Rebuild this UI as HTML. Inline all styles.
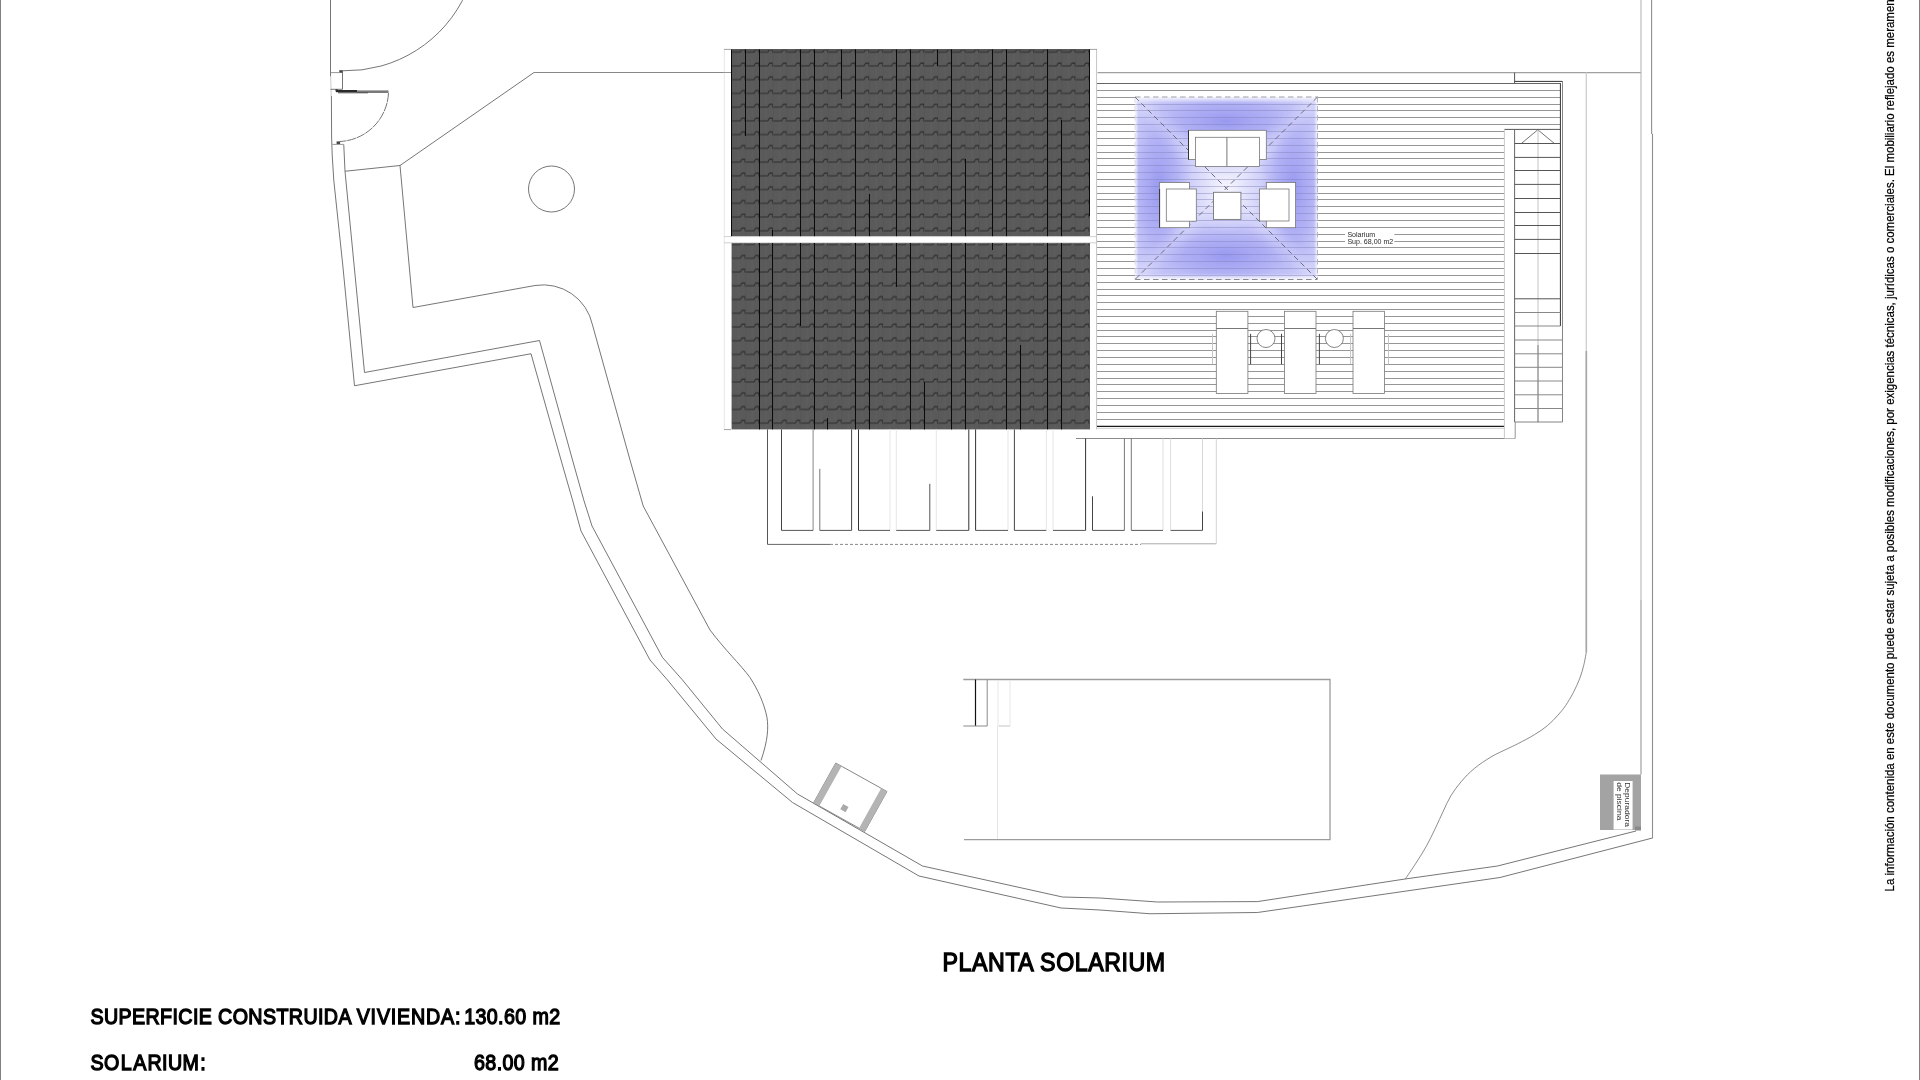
<!DOCTYPE html>
<html lang="es">
<head>
<meta charset="utf-8">
<title>Planta Solarium</title>
<style>
html,body{margin:0;padding:0;background:#fff;}
body{width:1920px;height:1080px;overflow:hidden;position:relative;font-family:"Liberation Sans",sans-serif;}
svg{position:absolute;left:0;top:0;display:block;will-change:transform;}
text{font-family:"Liberation Sans",sans-serif;}
</style>
</head>
<body>
<svg width="1920" height="1080" viewBox="0 0 1920 1080" role="img" aria-label="Planta Solarium">
<defs>
<pattern id="tiles" x="731.6" y="52.2" width="13.75" height="13.74" patternUnits="userSpaceOnUse">
<rect x="0" y="0" width="13.75" height="13.75" fill="#5a5a5a"/>
<path d="M0.2,0 H8.4 C9.4,0 9.6,-2.8 10.7,-2.8 H13.5 M13.6,-3.2 V0.4" fill="none" stroke="#2b2b2b" stroke-width="1.1"/>
<path d="M0.2,13.74 H8.4 C9.4,13.74 9.6,10.94 10.7,10.94 H13.5 M13.6,10.54 V14.14" fill="none" stroke="#2b2b2b" stroke-width="1.1"/>
<line x1="0" y1="0" x2="0" y2="13.75" stroke="#4f4f4f" stroke-width="0.7"/>
<line x1="6.9" y1="1" x2="6.9" y2="10.75" stroke="#5e5e5e" stroke-width="1.2"/>
</pattern>
<radialGradient id="bh" cx="0.5" cy="0.5" r="0.5">
<stop offset="0" stop-color="#9696f0" stop-opacity="0.95"/>
<stop offset="0.55" stop-color="#a8a8f4" stop-opacity="0.7"/>
<stop offset="1" stop-color="#b8b8f6" stop-opacity="0"/>
</radialGradient>
<radialGradient id="bc" cx="0.5" cy="0.5" r="0.5">
<stop offset="0" stop-color="#ffffff" stop-opacity="0.75"/>
<stop offset="1" stop-color="#ffffff" stop-opacity="0"/>
</radialGradient>
<linearGradient id="fadeL" x1="0" x2="1" y1="0" y2="0"><stop offset="0" stop-color="#fff" stop-opacity="0.85"/><stop offset="1" stop-color="#fff" stop-opacity="0"/></linearGradient>
<linearGradient id="fadeR" x1="1" x2="0" y1="0" y2="0"><stop offset="0" stop-color="#fff" stop-opacity="0.85"/><stop offset="1" stop-color="#fff" stop-opacity="0"/></linearGradient>
<linearGradient id="fadeT" x1="0" x2="0" y1="0" y2="1"><stop offset="0" stop-color="#fff" stop-opacity="0.85"/><stop offset="1" stop-color="#fff" stop-opacity="0"/></linearGradient>
<linearGradient id="fadeB" x1="0" x2="0" y1="1" y2="0"><stop offset="0" stop-color="#fff" stop-opacity="0.85"/><stop offset="1" stop-color="#fff" stop-opacity="0"/></linearGradient>
<filter id="blur5" x="-20%" y="-20%" width="140%" height="140%"><feGaussianBlur stdDeviation="5"/></filter>
<clipPath id="clipBlue"><rect x="1135" y="97" width="182.5" height="182.5"/></clipPath>
</defs>
<g id="site-boundary">
<rect x="0" y="0" width="1" height="1080" fill="#808080" stroke="none" stroke-width="1" />
<rect x="1919" y="0" width="1" height="1080" fill="#808080" stroke="none" stroke-width="1" />
<polyline points="331.6,137 332.2,155 333.75,180 342.75,265 354.5,385.75 531,353.75 561,460 572.5,500 581,531 650,660 667.5,680 716,739 792.5,802.5 919,876 1061,908 1100,910 1150,913.75 1257.5,912.5 1500,877.5 1652.5,838" fill="none" stroke="#666" stroke-width="0.9" />
<line x1="1652.5" y1="838.3" x2="1652.5" y2="133.75" stroke="#8e8e8e" stroke-width="1.1" />
<line x1="1651.6" y1="0" x2="1651.6" y2="134" stroke="#8e8e8e" stroke-width="1.1" />
<polyline points="343.75,144.4 345,171.25 364.5,372.5 539.5,340.5 572.5,460 583.75,500 592,526 662.5,657.5 682.5,680 722.5,729 797.5,794 922.5,866 1062.5,897 1100,898 1157.5,902 1257.5,901.6 1405,879 1497.5,866 1636,831" fill="none" stroke="#666" stroke-width="0.9" />
<path d="M345,171.25 L400,165.5 L413,307.5 L535,285.5 A50.5 50.5 0 0 1 592.5,325 L630,460 L643.2,506 L710,630 C725,650 740,664 750,677.5 C758,690 764,703 767,717.5 C768.5,728 768,740 761,760.5" fill="none" stroke="#666" stroke-width="0.9" />
<polyline points="400,165.5 534,72.5" fill="none" stroke="#666" stroke-width="0.9" />
<line x1="534" y1="72.5" x2="731" y2="72.5" stroke="#7a7a7a" stroke-width="0.9" />
<circle cx="551.5" cy="189" r="23" fill="none" stroke="#666" stroke-width="0.9"/>
<line x1="330.5" y1="0" x2="330.5" y2="76.5" stroke="#666" stroke-width="0.9" />
<line x1="330.7" y1="76.5" x2="331.2" y2="96" stroke="#c4c4c4" stroke-width="0.9" />
<polyline points="331.4,96 331.6,137" fill="none" stroke="#666" stroke-width="0.9" />
<path d="M342.5,70.8 A131.8 131.8 0 0 0 466.5,-8" fill="none" stroke="#666" stroke-width="0.9" />
<rect x="339.3" y="70.2" width="3.5" height="2.6" fill="#444" stroke="none" stroke-width="1" />
<line x1="330.5" y1="72.6" x2="339.5" y2="72.6" stroke="#8a8a8a" stroke-width="0.9" />
<polyline points="342.5,72 342.5,89.3 330.5,89.3" fill="none" stroke="#666" stroke-width="0.9" />
<rect x="335.5" y="89.3" width="2.2" height="2.2" fill="#333" stroke="none" stroke-width="1" />
<rect x="336" y="90" width="21" height="2.2" fill="#2a2a2a" stroke="none" stroke-width="1" />
<rect x="357" y="90.4" width="31.5" height="2.6" fill="#7a7a7a" stroke="none" stroke-width="1" />
<rect x="338" y="92.2" width="30" height="1.1" fill="#555" stroke="none" stroke-width="1" />
<path d="M388.5,93 A51 51 0 0 1 340,141.5" fill="none" stroke="#666" stroke-width="0.9" stroke-dasharray="9 0.8"/>
<rect x="336.6" y="141.4" width="3.5" height="2.6" fill="#444" stroke="none" stroke-width="1" />
<line x1="332.4" y1="144.4" x2="343.6" y2="144.4" stroke="#8a8a8a" stroke-width="0.9" />
<line x1="1641" y1="0" x2="1641" y2="600" stroke="#d0d0d0" stroke-width="1.7" />
<line x1="1641" y1="600" x2="1641" y2="774.5" stroke="#bcbcbc" stroke-width="1.7" />
<line x1="1096" y1="72.6" x2="1640.8" y2="72.6" stroke="#a0a0a0" stroke-width="1.2" />
<line x1="1586.3" y1="72.6" x2="1586.3" y2="351" stroke="#cfcfcf" stroke-width="1.3" />
<line x1="1586.3" y1="351" x2="1586.3" y2="652.4" stroke="#a6a6a6" stroke-width="1.7" />
<path d="M1586.30,652.40 C1585.87,654.57 1584.78,661.08 1583.70,665.40 C1582.62,669.72 1581.53,673.77 1579.80,678.30 C1578.07,682.83 1575.67,688.05 1573.30,692.60 C1570.93,697.15 1568.18,701.82 1565.60,705.60 C1563.02,709.38 1560.83,711.95 1557.80,715.30 C1554.77,718.65 1551.30,722.47 1547.40,725.70 C1543.50,728.93 1539.15,731.78 1534.40,734.70 C1529.65,737.62 1523.52,740.80 1518.90,743.20 C1514.28,745.60 1511.33,746.82 1506.70,749.10 C1502.07,751.38 1496.50,753.67 1491.10,756.90 C1485.70,760.13 1479.27,764.40 1474.30,768.50 C1469.33,772.60 1465.20,776.97 1461.30,781.50 C1457.40,786.03 1453.92,790.73 1450.90,795.70 C1447.88,800.67 1445.78,805.88 1443.20,811.30 C1440.62,816.72 1438.22,822.37 1435.40,828.20 C1432.58,834.03 1429.55,840.47 1426.30,846.30 C1423.05,852.13 1419.40,857.75 1415.90,863.20 C1412.40,868.65 1407.07,876.37 1405.30,879.00" fill="none" stroke="#777" stroke-width="0.85" />
<rect x="1600" y="774.5" width="41" height="55.5" fill="#a3a3a3" stroke="none" stroke-width="1" />
<rect x="1613.6" y="781" width="19" height="48.5" fill="#ffffff" stroke="none" stroke-width="1" />
<rect x="1635" y="826.5" width="6" height="4" fill="#8a8a8a" stroke="none" stroke-width="1" />
<polyline points="963.3,679.5 1330,679.5 1330,839.6 964,839.6" fill="none" stroke="#9c9c9c" stroke-width="1.3" />
<line x1="975.5" y1="679.5" x2="975.5" y2="726" stroke="#111" stroke-width="1.2" />
<line x1="987.2" y1="679.5" x2="987.2" y2="726" stroke="#8a8a8a" stroke-width="1" />
<line x1="963.3" y1="726" x2="987.2" y2="726" stroke="#8a8a8a" stroke-width="1" />
<line x1="998.5" y1="726" x2="1010" y2="726" stroke="#c4c4c4" stroke-width="1" />
<line x1="998" y1="680" x2="998" y2="726" stroke="#e6e6e6" stroke-width="1" />
<line x1="1010" y1="680" x2="1010" y2="726" stroke="#e6e6e6" stroke-width="1" />
<line x1="997.5" y1="726" x2="997.5" y2="839" stroke="#e6e6e6" stroke-width="1" />
<g transform="translate(835.75,763) rotate(29.1)">
<rect x="0" y="0" width="58.6" height="45.6" fill="#fff" stroke="#777" stroke-width="0.8" />
<rect x="0" y="0" width="6.6" height="45.6" fill="#b4b4b4" stroke="none" stroke-width="1" />
<rect x="52" y="0" width="6.6" height="45.6" fill="#b4b4b4" stroke="none" stroke-width="1" />
<rect x="26.5" y="32.2" width="6" height="6" fill="#aaa" stroke="none" stroke-width="1" />
</g>
</g>
<g id="house-roof">
<rect x="724" y="49.4" width="373.5" height="380" fill="#fff" stroke="none" stroke-width="1" />
<line x1="724.3" y1="49.4" x2="724.3" y2="429.4" stroke="#e6e6e6" stroke-width="1" />
<line x1="723.5" y1="72.5" x2="731.6" y2="72.5" stroke="#8a8a8a" stroke-width="0.9" />
<line x1="1096.6" y1="49.4" x2="1096.6" y2="429.4" stroke="#c4c4c4" stroke-width="1" />
<rect x="731.6" y="49.4" width="358.4" height="186.79999999999998" fill="url(#tiles)" stroke="none" stroke-width="1" />
<rect x="731.6" y="243.0" width="358.4" height="186.39999999999998" fill="url(#tiles)" stroke="none" stroke-width="1" />
<line x1="731.6" y1="49.8" x2="1090.0" y2="49.8" stroke="#3c3c3c" stroke-width="1" />
<line x1="724" y1="49.4" x2="731.6" y2="49.4" stroke="#8a8a8a" stroke-width="0.8" />
<line x1="1090" y1="49.4" x2="1097" y2="49.4" stroke="#8a8a8a" stroke-width="0.8" />
<line x1="724" y1="236.6" x2="1097" y2="236.6" stroke="#c4c4c4" stroke-width="0.8" />
<line x1="724" y1="242.8" x2="1097" y2="242.8" stroke="#c4c4c4" stroke-width="0.8" />
<line x1="724" y1="429.6" x2="731" y2="429.6" stroke="#8a8a8a" stroke-width="0.8" />
<line x1="731.5" y1="49.4" x2="731.5" y2="236.2" stroke="#0a0a0a" stroke-width="1" />
<line x1="745.5" y1="49.4" x2="745.5" y2="136" stroke="#0a0a0a" stroke-width="1" />
<line x1="759.5" y1="49.4" x2="759.5" y2="236.2" stroke="#0a0a0a" stroke-width="1" />
<line x1="772.5" y1="230" x2="772.5" y2="236.2" stroke="#0a0a0a" stroke-width="1" />
<line x1="800.5" y1="49.4" x2="800.5" y2="236.2" stroke="#0a0a0a" stroke-width="1" />
<line x1="814.5" y1="49.4" x2="814.5" y2="236.2" stroke="#0a0a0a" stroke-width="1" />
<line x1="841.5" y1="49.4" x2="841.5" y2="99" stroke="#0a0a0a" stroke-width="1" />
<line x1="855.5" y1="49.4" x2="855.5" y2="236.2" stroke="#0a0a0a" stroke-width="1" />
<line x1="869.5" y1="194" x2="869.5" y2="236.2" stroke="#0a0a0a" stroke-width="1" />
<line x1="896.5" y1="49.4" x2="896.5" y2="236.2" stroke="#0a0a0a" stroke-width="1" />
<line x1="910.5" y1="49.4" x2="910.5" y2="236.2" stroke="#0a0a0a" stroke-width="1" />
<line x1="937.5" y1="49.4" x2="937.5" y2="66" stroke="#0a0a0a" stroke-width="1" />
<line x1="951.5" y1="49.4" x2="951.5" y2="236.2" stroke="#0a0a0a" stroke-width="1" />
<line x1="965.5" y1="159" x2="965.5" y2="236.2" stroke="#0a0a0a" stroke-width="1" />
<line x1="992.5" y1="49.4" x2="992.5" y2="236.2" stroke="#0a0a0a" stroke-width="1" />
<line x1="1006.5" y1="49.4" x2="1006.5" y2="236.2" stroke="#0a0a0a" stroke-width="1" />
<line x1="1047.5" y1="49.4" x2="1047.5" y2="236.2" stroke="#0a0a0a" stroke-width="1" />
<line x1="1061.5" y1="120" x2="1061.5" y2="236.2" stroke="#0a0a0a" stroke-width="1" />
<line x1="1089.5" y1="49.4" x2="1089.5" y2="216" stroke="#0a0a0a" stroke-width="1" />
<line x1="759.5" y1="243.0" x2="759.5" y2="429.4" stroke="#0a0a0a" stroke-width="1" />
<line x1="772.5" y1="243.0" x2="772.5" y2="429.4" stroke="#0a0a0a" stroke-width="1" />
<line x1="800.5" y1="243.0" x2="800.5" y2="326" stroke="#0a0a0a" stroke-width="1" />
<line x1="814.5" y1="243.0" x2="814.5" y2="429.4" stroke="#0a0a0a" stroke-width="1" />
<line x1="827.5" y1="418" x2="827.5" y2="429.4" stroke="#0a0a0a" stroke-width="1" />
<line x1="855.5" y1="243.0" x2="855.5" y2="429.4" stroke="#0a0a0a" stroke-width="1" />
<line x1="869.5" y1="243.0" x2="869.5" y2="429.4" stroke="#0a0a0a" stroke-width="1" />
<line x1="896.5" y1="243.0" x2="896.5" y2="287" stroke="#0a0a0a" stroke-width="1" />
<line x1="910.5" y1="243.0" x2="910.5" y2="429.4" stroke="#0a0a0a" stroke-width="1" />
<line x1="924.5" y1="382" x2="924.5" y2="429.4" stroke="#0a0a0a" stroke-width="1" />
<line x1="951.5" y1="243.0" x2="951.5" y2="429.4" stroke="#0a0a0a" stroke-width="1" />
<line x1="965.5" y1="243.0" x2="965.5" y2="429.4" stroke="#0a0a0a" stroke-width="1" />
<line x1="992.5" y1="243.0" x2="992.5" y2="250" stroke="#0a0a0a" stroke-width="1" />
<line x1="1006.5" y1="243.0" x2="1006.5" y2="429.4" stroke="#0a0a0a" stroke-width="1" />
<line x1="1020.5" y1="345" x2="1020.5" y2="429.4" stroke="#0a0a0a" stroke-width="1" />
<line x1="1047.5" y1="243.0" x2="1047.5" y2="429.4" stroke="#0a0a0a" stroke-width="1" />
<line x1="1061.5" y1="243.0" x2="1061.5" y2="429.4" stroke="#0a0a0a" stroke-width="1" />
</g>
<g id="solarium-deck">
<line x1="1097" y1="83.5" x2="1560.4" y2="83.5" stroke="#666" stroke-width="1.0" />
<line x1="1097" y1="90.5" x2="1560.4" y2="90.5" stroke="#969696" stroke-width="1.0" />
<line x1="1097" y1="97.5" x2="1560.4" y2="97.5" stroke="#969696" stroke-width="1.0" />
<line x1="1097" y1="104.5" x2="1560.4" y2="104.5" stroke="#969696" stroke-width="1.0" />
<line x1="1097" y1="110.5" x2="1560.4" y2="110.5" stroke="#969696" stroke-width="1.0" />
<line x1="1097" y1="117.5" x2="1560.4" y2="117.5" stroke="#969696" stroke-width="1.0" />
<line x1="1097" y1="124.5" x2="1560.4" y2="124.5" stroke="#969696" stroke-width="1.0" />
<line x1="1097" y1="131.5" x2="1504.4" y2="131.5" stroke="#969696" stroke-width="1.0" />
<line x1="1097" y1="138.5" x2="1504.4" y2="138.5" stroke="#969696" stroke-width="1.0" />
<line x1="1097" y1="145.5" x2="1504.4" y2="145.5" stroke="#969696" stroke-width="1.0" />
<line x1="1097" y1="152.5" x2="1504.4" y2="152.5" stroke="#969696" stroke-width="1.0" />
<line x1="1097" y1="158.5" x2="1504.4" y2="158.5" stroke="#969696" stroke-width="1.0" />
<line x1="1097" y1="165.5" x2="1504.4" y2="165.5" stroke="#969696" stroke-width="1.0" />
<line x1="1097" y1="172.5" x2="1504.4" y2="172.5" stroke="#969696" stroke-width="1.0" />
<line x1="1097" y1="179.5" x2="1504.4" y2="179.5" stroke="#969696" stroke-width="1.0" />
<line x1="1097" y1="186.5" x2="1504.4" y2="186.5" stroke="#969696" stroke-width="1.0" />
<line x1="1097" y1="193.5" x2="1504.4" y2="193.5" stroke="#969696" stroke-width="1.0" />
<line x1="1097" y1="199.5" x2="1504.4" y2="199.5" stroke="#969696" stroke-width="1.0" />
<line x1="1097" y1="206.5" x2="1504.4" y2="206.5" stroke="#969696" stroke-width="1.0" />
<line x1="1097" y1="213.5" x2="1504.4" y2="213.5" stroke="#969696" stroke-width="1.0" />
<line x1="1097" y1="220.5" x2="1504.4" y2="220.5" stroke="#969696" stroke-width="1.0" />
<line x1="1097" y1="227.5" x2="1504.4" y2="227.5" stroke="#969696" stroke-width="1.0" />
<line x1="1097" y1="234.5" x2="1504.4" y2="234.5" stroke="#969696" stroke-width="1.0" />
<line x1="1097" y1="241.5" x2="1504.4" y2="241.5" stroke="#969696" stroke-width="1.0" />
<line x1="1097" y1="247.5" x2="1504.4" y2="247.5" stroke="#969696" stroke-width="1.0" />
<line x1="1097" y1="254.5" x2="1504.4" y2="254.5" stroke="#969696" stroke-width="1.0" />
<line x1="1097" y1="261.5" x2="1504.4" y2="261.5" stroke="#969696" stroke-width="1.0" />
<line x1="1097" y1="268.5" x2="1504.4" y2="268.5" stroke="#969696" stroke-width="1.0" />
<line x1="1097" y1="275.5" x2="1504.4" y2="275.5" stroke="#969696" stroke-width="1.0" />
<line x1="1097" y1="282.5" x2="1504.4" y2="282.5" stroke="#969696" stroke-width="1.0" />
<line x1="1097" y1="289.5" x2="1504.4" y2="289.5" stroke="#969696" stroke-width="1.0" />
<line x1="1097" y1="295.5" x2="1504.4" y2="295.5" stroke="#969696" stroke-width="1.0" />
<line x1="1097" y1="302.5" x2="1504.4" y2="302.5" stroke="#969696" stroke-width="1.0" />
<line x1="1097" y1="309.5" x2="1504.4" y2="309.5" stroke="#969696" stroke-width="1.0" />
<line x1="1097" y1="316.5" x2="1504.4" y2="316.5" stroke="#969696" stroke-width="1.0" />
<line x1="1097" y1="323.5" x2="1504.4" y2="323.5" stroke="#969696" stroke-width="1.0" />
<line x1="1097" y1="330.5" x2="1504.4" y2="330.5" stroke="#969696" stroke-width="1.0" />
<line x1="1097" y1="336.5" x2="1504.4" y2="336.5" stroke="#969696" stroke-width="1.0" />
<line x1="1097" y1="343.5" x2="1504.4" y2="343.5" stroke="#969696" stroke-width="1.0" />
<line x1="1097" y1="350.5" x2="1504.4" y2="350.5" stroke="#969696" stroke-width="1.0" />
<line x1="1097" y1="357.5" x2="1504.4" y2="357.5" stroke="#969696" stroke-width="1.0" />
<line x1="1097" y1="364.5" x2="1504.4" y2="364.5" stroke="#969696" stroke-width="1.0" />
<line x1="1097" y1="371.5" x2="1504.4" y2="371.5" stroke="#969696" stroke-width="1.0" />
<line x1="1097" y1="378.5" x2="1504.4" y2="378.5" stroke="#969696" stroke-width="1.0" />
<line x1="1097" y1="384.5" x2="1504.4" y2="384.5" stroke="#969696" stroke-width="1.0" />
<line x1="1097" y1="391.5" x2="1504.4" y2="391.5" stroke="#969696" stroke-width="1.0" />
<line x1="1097" y1="398.5" x2="1504.4" y2="398.5" stroke="#969696" stroke-width="1.0" />
<line x1="1097" y1="405.5" x2="1504.4" y2="405.5" stroke="#969696" stroke-width="1.0" />
<line x1="1097" y1="412.5" x2="1504.4" y2="412.5" stroke="#969696" stroke-width="1.0" />
<line x1="1097" y1="419.5" x2="1504.4" y2="419.5" stroke="#969696" stroke-width="1.0" />
<line x1="1097" y1="426.5" x2="1504.4" y2="426.5" stroke="#969696" stroke-width="1.0" />
<line x1="1097" y1="426.3" x2="1504.4" y2="426.3" stroke="#1a1a1a" stroke-width="1.3" />
<line x1="1097" y1="428.3" x2="1504.4" y2="428.3" stroke="#c4c4c4" stroke-width="0.8" />
<line x1="1076" y1="438.5" x2="1515" y2="438.5" stroke="#8a8a8a" stroke-width="1" />
<g clip-path="url(#clipBlue)">
<rect x="1135" y="97" width="182.5" height="182.5" fill="#c6c6f8" stroke="none" stroke-width="1" fill-opacity="0.92"/>
<ellipse cx="1226.25" cy="121" rx="92" ry="34" fill="url(#bh)"/>
<ellipse cx="1226.25" cy="255.5" rx="92" ry="34" fill="url(#bh)"/>
<ellipse cx="1159" cy="188.25" rx="34" ry="92" fill="url(#bh)"/>
<ellipse cx="1293.5" cy="188.25" rx="34" ry="92" fill="url(#bh)"/>
<ellipse cx="1226.25" cy="188.25" rx="44" ry="44" fill="url(#bc)"/>
<path d="M1135,97 L1317.5,279.5 M1317.5,97 L1135,279.5" stroke="#fff" stroke-opacity="0.22" stroke-width="14" fill="none" filter="url(#blur5)"/>
<rect x="1135" y="97" width="3.5" height="182.5" fill="url(#fadeL)" stroke="none" stroke-width="1" />
<rect x="1314.0" y="97" width="3.5" height="182.5" fill="url(#fadeR)" stroke="none" stroke-width="1" />
<rect x="1135" y="97" width="182.5" height="6" fill="url(#fadeT)" stroke="none" stroke-width="1" />
<rect x="1135" y="273.5" width="182.5" height="6" fill="url(#fadeB)" stroke="none" stroke-width="1" />
<line x1="1135" y1="104.5" x2="1317.5" y2="104.5" stroke="#7c7cb4" stroke-width="1" stroke-opacity="0.4"/>
<line x1="1135" y1="110.5" x2="1317.5" y2="110.5" stroke="#7c7cb4" stroke-width="1" stroke-opacity="0.4"/>
<line x1="1135" y1="117.5" x2="1317.5" y2="117.5" stroke="#7c7cb4" stroke-width="1" stroke-opacity="0.4"/>
<line x1="1135" y1="124.5" x2="1317.5" y2="124.5" stroke="#7c7cb4" stroke-width="1" stroke-opacity="0.4"/>
<line x1="1135" y1="131.5" x2="1317.5" y2="131.5" stroke="#7c7cb4" stroke-width="1" stroke-opacity="0.4"/>
<line x1="1135" y1="138.5" x2="1317.5" y2="138.5" stroke="#7c7cb4" stroke-width="1" stroke-opacity="0.4"/>
<line x1="1135" y1="145.5" x2="1317.5" y2="145.5" stroke="#7c7cb4" stroke-width="1" stroke-opacity="0.4"/>
<line x1="1135" y1="152.5" x2="1317.5" y2="152.5" stroke="#7c7cb4" stroke-width="1" stroke-opacity="0.4"/>
<line x1="1135" y1="158.5" x2="1317.5" y2="158.5" stroke="#7c7cb4" stroke-width="1" stroke-opacity="0.4"/>
<line x1="1135" y1="165.5" x2="1317.5" y2="165.5" stroke="#7c7cb4" stroke-width="1" stroke-opacity="0.4"/>
<line x1="1135" y1="172.5" x2="1317.5" y2="172.5" stroke="#7c7cb4" stroke-width="1" stroke-opacity="0.4"/>
<line x1="1135" y1="179.5" x2="1317.5" y2="179.5" stroke="#7c7cb4" stroke-width="1" stroke-opacity="0.4"/>
<line x1="1135" y1="186.5" x2="1317.5" y2="186.5" stroke="#7c7cb4" stroke-width="1" stroke-opacity="0.4"/>
<line x1="1135" y1="193.5" x2="1317.5" y2="193.5" stroke="#7c7cb4" stroke-width="1" stroke-opacity="0.4"/>
<line x1="1135" y1="199.5" x2="1317.5" y2="199.5" stroke="#7c7cb4" stroke-width="1" stroke-opacity="0.4"/>
<line x1="1135" y1="206.5" x2="1317.5" y2="206.5" stroke="#7c7cb4" stroke-width="1" stroke-opacity="0.4"/>
<line x1="1135" y1="213.5" x2="1317.5" y2="213.5" stroke="#7c7cb4" stroke-width="1" stroke-opacity="0.4"/>
<line x1="1135" y1="220.5" x2="1317.5" y2="220.5" stroke="#7c7cb4" stroke-width="1" stroke-opacity="0.4"/>
<line x1="1135" y1="227.5" x2="1317.5" y2="227.5" stroke="#7c7cb4" stroke-width="1" stroke-opacity="0.4"/>
<line x1="1135" y1="234.5" x2="1317.5" y2="234.5" stroke="#7c7cb4" stroke-width="1" stroke-opacity="0.4"/>
<line x1="1135" y1="241.5" x2="1317.5" y2="241.5" stroke="#7c7cb4" stroke-width="1" stroke-opacity="0.4"/>
<line x1="1135" y1="247.5" x2="1317.5" y2="247.5" stroke="#7c7cb4" stroke-width="1" stroke-opacity="0.4"/>
<line x1="1135" y1="254.5" x2="1317.5" y2="254.5" stroke="#7c7cb4" stroke-width="1" stroke-opacity="0.4"/>
<line x1="1135" y1="261.5" x2="1317.5" y2="261.5" stroke="#7c7cb4" stroke-width="1" stroke-opacity="0.4"/>
<line x1="1135" y1="268.5" x2="1317.5" y2="268.5" stroke="#7c7cb4" stroke-width="1" stroke-opacity="0.4"/>
<line x1="1135" y1="275.5" x2="1317.5" y2="275.5" stroke="#7c7cb4" stroke-width="1" stroke-opacity="0.4"/>
</g>
<line x1="1135" y1="97" x2="1317.5" y2="97" stroke="#a0a0a8" stroke-width="1.1" stroke-dasharray="5.5 3.5"/>
<line x1="1135" y1="279.5" x2="1317.5" y2="279.5" stroke="#8a8a8a" stroke-width="1.1" stroke-dasharray="5.5 3.5"/>
<line x1="1317.5" y1="97" x2="1317.5" y2="279.5" stroke="#b0b0b8" stroke-width="0.9" stroke-dasharray="5.5 3.5"/>
<line x1="1135" y1="97" x2="1135" y2="279.5" stroke="#d0d0d8" stroke-width="0.8" stroke-dasharray="5.5 3.5"/>
<line x1="1135" y1="97" x2="1317.5" y2="279.5" stroke="#6c6c84" stroke-width="1" stroke-dasharray="5.5 3.5"/>
<line x1="1317.5" y1="97" x2="1135" y2="279.5" stroke="#6c6c84" stroke-width="1" stroke-dasharray="5.5 3.5"/>
<rect x="1188.5" y="130.3" width="77.8" height="29.3" fill="#fff" stroke="#777" stroke-width="0.8" />
<rect x="1195.6" y="137.3" width="64" height="29.2" fill="#fff" stroke="#777" stroke-width="0.8" />
<line x1="1226.9" y1="137.3" x2="1226.9" y2="166.5" stroke="#777" stroke-width="1" />
<rect x="1159.6" y="182.5" width="29.8" height="45.2" fill="#fff" stroke="#777" stroke-width="0.8" />
<rect x="1166.3" y="189" width="30" height="32.2" fill="#fff" stroke="#777" stroke-width="0.8" />
<line x1="1188.5" y1="130.3" x2="1188.5" y2="159.6" stroke="#333" stroke-width="1" />
<line x1="1159.6" y1="189" x2="1159.6" y2="227.7" stroke="#333" stroke-width="1" />
<rect x="1213.5" y="192.3" width="27.4" height="27.1" fill="#fff" stroke="#777" stroke-width="0.9" />
<rect x="1266.3" y="182.5" width="29.3" height="45.2" fill="#fff" stroke="#777" stroke-width="0.8" />
<rect x="1259.6" y="189" width="29.4" height="32" fill="#fff" stroke="#777" stroke-width="0.8" />
<rect x="1216.3" y="311.3" width="31.6" height="82.2" fill="#fff" stroke="#777" stroke-width="0.8" />
<line x1="1216.3" y1="328.5" x2="1247.8999999999999" y2="328.5" stroke="#777" stroke-width="1" />
<rect x="1284.4" y="311.3" width="31.6" height="82.2" fill="#fff" stroke="#777" stroke-width="0.8" />
<line x1="1284.4" y1="328.5" x2="1316.0" y2="328.5" stroke="#777" stroke-width="1" />
<rect x="1353.0" y="311.3" width="31.6" height="82.2" fill="#fff" stroke="#777" stroke-width="0.8" />
<line x1="1353.0" y1="328.5" x2="1384.6" y2="328.5" stroke="#777" stroke-width="1" />
<circle cx="1266" cy="338.5" r="9" fill="#fff" stroke="#777" stroke-width="0.9"/>
<circle cx="1334.4" cy="338.5" r="9" fill="#fff" stroke="#777" stroke-width="0.9"/>
<line x1="1250.6" y1="333.8" x2="1250.6" y2="364.4" stroke="#444" stroke-width="1" />
<line x1="1281.5" y1="333.8" x2="1281.5" y2="364.4" stroke="#444" stroke-width="1" />
<line x1="1319.4" y1="333.8" x2="1319.4" y2="364.4" stroke="#444" stroke-width="1" />
<line x1="1350.6" y1="333.8" x2="1350.6" y2="364.4" stroke="#c4c4c4" stroke-width="1" />
<line x1="1212.5" y1="333.8" x2="1212.5" y2="364.4" stroke="#c4c4c4" stroke-width="1" />
<line x1="1388.5" y1="333.8" x2="1388.5" y2="364.4" stroke="#c4c4c4" stroke-width="1" />
<rect x="1504.4" y="129.4" width="10.2" height="309" fill="#fff" stroke="none" stroke-width="1" />
<rect x="1514.6" y="129.8" width="46" height="292" fill="#fff" stroke="none" stroke-width="1" />
<line x1="1504.4" y1="129.4" x2="1560.4" y2="129.4" stroke="#555" stroke-width="1" />
<line x1="1504.4" y1="129.4" x2="1504.4" y2="438.5" stroke="#c4c4c4" stroke-width="0.9" />
<line x1="1514.6" y1="129.4" x2="1514.6" y2="422" stroke="#666" stroke-width="1" />
<line x1="1515.2" y1="422" x2="1515.2" y2="438.5" stroke="#888" stroke-width="0.9" />
<polyline points="1514.6,72.6 1514.6,83.2" fill="none" stroke="#555" stroke-width="1" />
<polyline points="1514.6,81.4 1562.5,81.4" fill="none" stroke="#333" stroke-width="1" />
<polyline points="1562.5,81.4 1562.5,422 1514.6,422" fill="none" stroke="#777" stroke-width="0.9" />
<line x1="1560.4" y1="83.2" x2="1560.4" y2="326" stroke="#333" stroke-width="1" />
<polyline points="1521.3,143.5 1537.8,129.8 1554.4,143.5" fill="none" stroke="#666" stroke-width="0.9" />
<line x1="1538" y1="130" x2="1538" y2="345" stroke="#c4c4c4" stroke-width="1" />
<line x1="1538" y1="345" x2="1538" y2="422" stroke="#666" stroke-width="1" />
<line x1="1514.6" y1="143.5" x2="1560.4" y2="143.5" stroke="#555" stroke-width="1" />
<line x1="1514.6" y1="157.4" x2="1560.4" y2="157.4" stroke="#555" stroke-width="1" />
<line x1="1514.6" y1="170.5" x2="1560.4" y2="170.5" stroke="#555" stroke-width="1" />
<line x1="1514.6" y1="184.4" x2="1560.4" y2="184.4" stroke="#555" stroke-width="1" />
<line x1="1514.6" y1="198.5" x2="1560.4" y2="198.5" stroke="#555" stroke-width="1" />
<line x1="1514.6" y1="212.5" x2="1560.4" y2="212.5" stroke="#555" stroke-width="1" />
<line x1="1514.6" y1="225.5" x2="1560.4" y2="225.5" stroke="#555" stroke-width="1" />
<line x1="1514.6" y1="239.4" x2="1560.4" y2="239.4" stroke="#555" stroke-width="1" />
<line x1="1514.6" y1="253.5" x2="1560.4" y2="253.5" stroke="#555" stroke-width="1" />
<line x1="1514.6" y1="298.8" x2="1560.4" y2="298.8" stroke="#555" stroke-width="1" />
<line x1="1514.6" y1="312.5" x2="1560.4" y2="312.5" stroke="#888" stroke-width="1" />
<line x1="1514.6" y1="326" x2="1560.4" y2="326" stroke="#888" stroke-width="1" />
<line x1="1514.6" y1="340" x2="1562.5" y2="340" stroke="#888" stroke-width="1" />
<line x1="1514.6" y1="353.8" x2="1562.5" y2="353.8" stroke="#888" stroke-width="1" />
<line x1="1514.6" y1="367.3" x2="1562.5" y2="367.3" stroke="#888" stroke-width="1" />
<line x1="1514.6" y1="381" x2="1562.5" y2="381" stroke="#888" stroke-width="1" />
<line x1="1514.6" y1="394.8" x2="1562.5" y2="394.8" stroke="#888" stroke-width="1" />
<line x1="1514.6" y1="408.5" x2="1562.5" y2="408.5" stroke="#888" stroke-width="1" />
<line x1="767.5" y1="429.4" x2="767.5" y2="544.4" stroke="#555" stroke-width="1" />
<line x1="767.5" y1="544.4" x2="830" y2="544.4" stroke="#666" stroke-width="1" />
<line x1="830" y1="544.4" x2="1141" y2="544.4" stroke="#888" stroke-width="1" stroke-dasharray="3 2"/>
<line x1="1141" y1="543.8" x2="1216.3" y2="543.8" stroke="#aaa" stroke-width="1" />
<line x1="1216.3" y1="438.5" x2="1216.3" y2="543.8" stroke="#d4d4d4" stroke-width="1" />
<line x1="781.5" y1="429.4" x2="781.5" y2="530.4" stroke="#444" stroke-width="1" />
<line x1="813.1" y1="429.4" x2="813.1" y2="530.4" stroke="#888" stroke-width="1" />
<line x1="781.5" y1="530.4" x2="813.1" y2="530.4" stroke="#555" stroke-width="1" />
<line x1="819.8" y1="468.8" x2="819.8" y2="530.4" stroke="#777" stroke-width="1" />
<line x1="851.6" y1="429.4" x2="851.6" y2="530.4" stroke="#444" stroke-width="1" />
<line x1="819.8" y1="530.4" x2="851.6" y2="530.4" stroke="#555" stroke-width="1" />
<line x1="858.5" y1="429.4" x2="858.5" y2="530.4" stroke="#333" stroke-width="1" />
<line x1="890.0" y1="429.4" x2="890.0" y2="530.4" stroke="#e6e6e6" stroke-width="1" />
<line x1="858.5" y1="530.4" x2="890.0" y2="530.4" stroke="#555" stroke-width="1" />
<line x1="896.3" y1="429.4" x2="896.3" y2="530.4" stroke="#e6e6e6" stroke-width="1" />
<line x1="929.8" y1="483.8" x2="929.8" y2="530.4" stroke="#555" stroke-width="1" />
<line x1="896.3" y1="530.4" x2="929.8" y2="530.4" stroke="#555" stroke-width="1" />
<line x1="936.3" y1="429.4" x2="936.3" y2="530.4" stroke="#e6e6e6" stroke-width="1" />
<line x1="968.8" y1="429.4" x2="968.8" y2="530.4" stroke="#333" stroke-width="1" />
<line x1="936.3" y1="530.4" x2="968.8" y2="530.4" stroke="#555" stroke-width="1" />
<line x1="975.6" y1="429.4" x2="975.6" y2="530.4" stroke="#333" stroke-width="1" />
<line x1="1008.0" y1="429.4" x2="1008.0" y2="530.4" stroke="#e6e6e6" stroke-width="1" />
<line x1="975.6" y1="530.4" x2="1008.0" y2="530.4" stroke="#555" stroke-width="1" />
<line x1="1014.4" y1="429.4" x2="1014.4" y2="530.4" stroke="#444" stroke-width="1" />
<line x1="1046.3" y1="429.4" x2="1046.3" y2="530.4" stroke="#e6e6e6" stroke-width="1" />
<line x1="1014.4" y1="530.4" x2="1046.3" y2="530.4" stroke="#555" stroke-width="1" />
<line x1="1053.0" y1="429.4" x2="1053.0" y2="530.4" stroke="#e6e6e6" stroke-width="1" />
<line x1="1085.6" y1="438.5" x2="1085.6" y2="530.4" stroke="#333" stroke-width="1" />
<line x1="1053.0" y1="530.4" x2="1085.6" y2="530.4" stroke="#555" stroke-width="1" />
<line x1="1092.5" y1="496.3" x2="1092.5" y2="530.4" stroke="#444" stroke-width="1" />
<line x1="1124.4" y1="438.5" x2="1124.4" y2="530.4" stroke="#777" stroke-width="1" />
<line x1="1092.5" y1="530.4" x2="1124.4" y2="530.4" stroke="#555" stroke-width="1" />
<line x1="1131.3" y1="438.5" x2="1131.3" y2="530.4" stroke="#777" stroke-width="1" />
<line x1="1163.0" y1="438.5" x2="1163.0" y2="530.4" stroke="#dedede" stroke-width="1" />
<line x1="1131.3" y1="530.4" x2="1163.0" y2="530.4" stroke="#555" stroke-width="1" />
<line x1="1170.6" y1="438.5" x2="1170.6" y2="530.4" stroke="#dedede" stroke-width="1" />
<line x1="1202.5" y1="511.3" x2="1202.5" y2="530.4" stroke="#444" stroke-width="1" />
<line x1="1170.6" y1="530.4" x2="1202.5" y2="530.4" stroke="#555" stroke-width="1" />
<line x1="1202.5" y1="438.5" x2="1202.5" y2="511.3" stroke="#d8d8d8" stroke-width="1" />
</g>
<g id="labels">
<text transform="translate(942.6,971.2) scale(0.899,1)" font-size="25.8" font-weight="normal" fill="#000" stroke="#000" stroke-width="1.35" stroke-linejoin="miter" letter-spacing="0.62">PLANTA SOLARIUM</text>
<text transform="translate(90.4,1024.1) scale(0.885,1)" font-size="22.2" font-weight="normal" fill="#000" stroke="#000" stroke-width="1.35" stroke-linejoin="miter" letter-spacing="0.45">SUPERFICIE CONSTRUIDA <tspan letter-spacing="0.93">VIVIENDA:</tspan><tspan dx="-3.3"> </tspan>130.60 m2</text>
<text transform="translate(90.4,1070.1) scale(0.885,1)" font-size="22.2" font-weight="normal" fill="#000" stroke="#000" stroke-width="1.35" stroke-linejoin="miter" letter-spacing="0.45">SO<tspan dx="1.4">L</tspan><tspan dx="1.4">A</tspan><tspan dx="0.7">R</tspan>IUM<tspan dx="1.2">:</tspan></text>
<text transform="translate(474.0,1070.1) scale(0.885,1)" font-size="22.2" font-weight="normal" fill="#000" stroke="#000" stroke-width="1.35" stroke-linejoin="miter" letter-spacing="0.45">68.00 m2</text>
<text transform="translate(1894,891.5) rotate(-90) scale(0.844,1)" font-size="13.6" fill="#000" stroke="#000" stroke-width="0.25">La información contenida en este documento puede estar sujeta a posibles modificaciones, por exigencias técnicas, jurídicas o comerciales. El mobiliario reflejado es meramen</text>
<rect x="1345" y="229.6" width="49.4" height="16.6" fill="#fff" stroke="none" stroke-width="1" />
<text transform="translate(1347.4,237.0) scale(1.07,1)" font-size="6.6" font-weight="normal" fill="#2a2a2a" >Solarium</text>
<text transform="translate(1347.4,244.4) scale(1.07,1)" font-size="6.6" font-weight="normal" fill="#2a2a2a" >Sup. 68,00 m2</text>
<text transform="translate(1624.9,782.2) rotate(90) scale(1.06,1)" font-size="8" fill="#333">Depuradora</text>
<text transform="translate(1616.9,782.2) rotate(90) scale(1.06,1)" font-size="8" fill="#333">de piscina</text>
</g>
</svg>
</body>
</html>
